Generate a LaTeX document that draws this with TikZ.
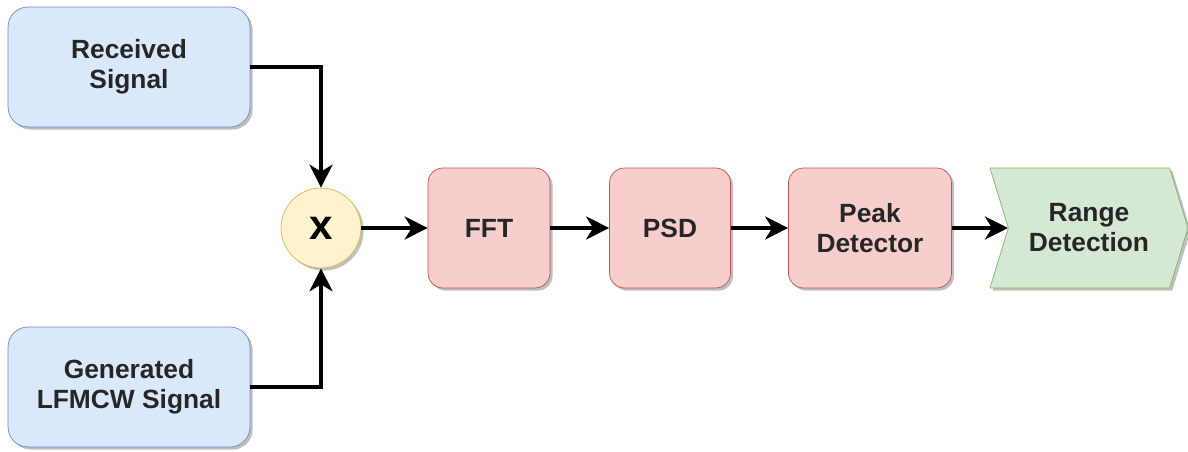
\documentclass[tikz,border=0pt]{standalone}
\usepackage{fontspec}
\setmainfont{Liberation Sans}
\usepackage{tikz}
\usetikzlibrary{arrows.meta,shapes.symbols,shadows}

\definecolor{bluefill}{HTML}{DAE8FC}\definecolor{blueline}{HTML}{6C8EBF}
\definecolor{redfill}{HTML}{F8CECC}\definecolor{redline}{HTML}{B85450}
\definecolor{yelfill}{HTML}{FFF2CC}\definecolor{yelline}{HTML}{D6B656}
\definecolor{grnfill}{HTML}{D5E8D4}\definecolor{grnline}{HTML}{82B366}

\begin{document}
\begin{tikzpicture}[x=0.02cm,y=-0.02cm,
    shad/.style={drop shadow={shadow xshift=1.5pt,shadow yshift=-1.5pt,opacity=0.25,fill=black}},
    srcbox/.style={draw=blueline,fill=bluefill,rounded corners=0.4cm,minimum width=4.84cm,minimum height=2.4cm,shad,align=center,font=\fontsize{15}{17}\selectfont\bfseries,text=black!85},
    procbox/.style={draw=redline,fill=redfill,rounded corners=0.3cm,minimum height=2.4cm,shad,align=center,font=\fontsize{15}{17}\selectfont\bfseries,text=black!85},
    flow/.style={line width=2.2pt,-{Stealth[length=0.46cm,width=0.46cm,inset=0.14cm]}}]
				\useasboundingbox (0,0) rectangle (1188,452);
				\node[srcbox] (recv) at (129,67) {Received\\Signal};
				\node[srcbox] (gen) at (129,387) {Generated\\LFMCW Signal};
				\node[circle,draw=yelline,fill=yelfill,minimum size=1.6cm,shad,font=\fontsize{24}{24}\selectfont\bfseries] (mix) at (321,228) {x};
				\node[procbox,minimum width=2.44cm] (fft) at (489,228) {FFT};
				\node[procbox,minimum width=2.42cm] (psd) at (670,228) {PSD};
				\node[procbox,minimum width=3.26cm] (peak) at (870,228) {Peak\\Detector};
				\node[signal,signal from=west,signal to=east,signal pointer angle=146,draw=grnline,fill=grnfill,minimum width=3.96cm,minimum height=2.4cm,shad,align=center,font=\fontsize{15}{17}\selectfont\bfseries,text=black!85] (range) at (1089,228) {Range\\Detection};
				\draw[flow] (recv.east) -| (mix.north);
				\draw[flow] (gen.east) -| (mix.south);
				\draw[flow] (mix) -- (fft);
				\draw[flow] (fft) -- (psd);
				\draw[flow] (psd) -- (peak);
				\draw[flow] (peak) -- (range.west);
			\end{tikzpicture}
\end{document}
